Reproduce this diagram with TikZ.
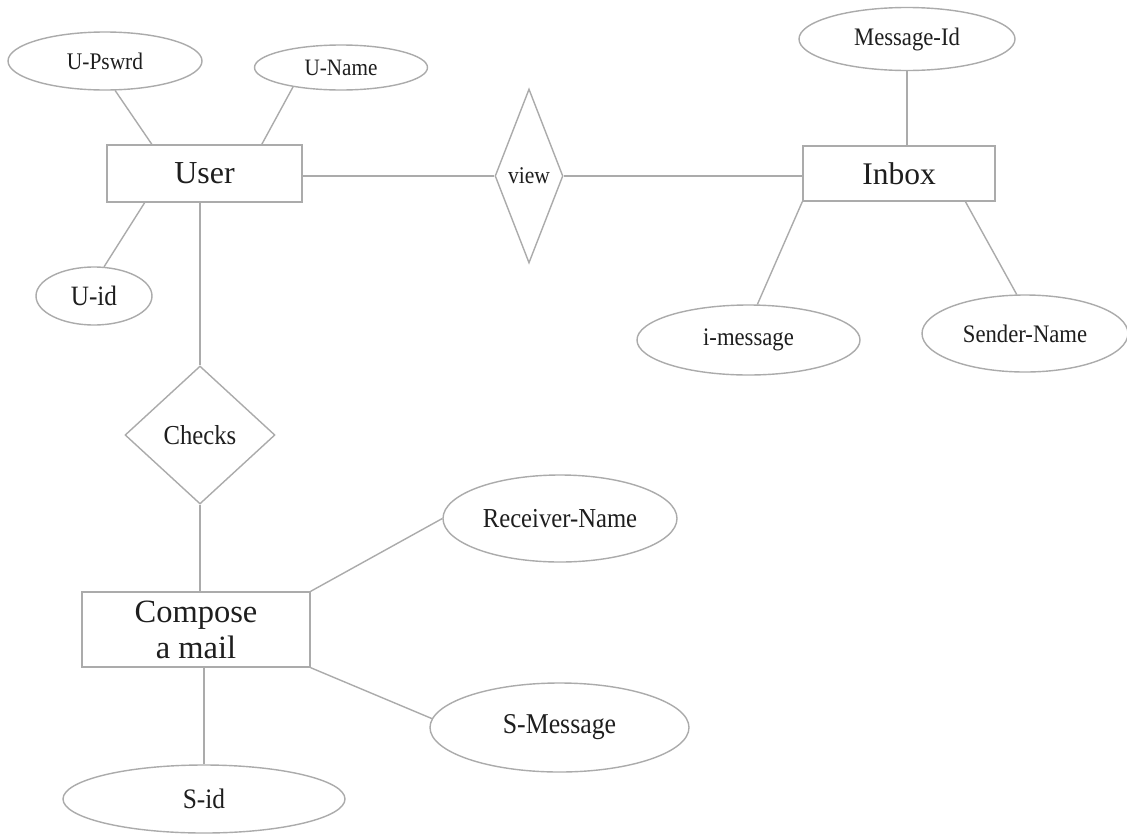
\documentclass[tikz,border=0pt]{standalone}
\usepackage{fontspec}
\setmainfont{Liberation Serif}
\newfontfamily\attrfont[FakeStretch=0.9]{Liberation Serif}
\usetikzlibrary{shapes.geometric}
\definecolor{edgegray}{HTML}{ABABAB}
\definecolor{ink}{HTML}{1E1E1E}
\newcommand\lblsize[1]{\attrfont\fontsize{#1}{#1}\selectfont}

\tikzset{
  er/.style={draw=edgegray, line width=1.4pt, inner sep=0pt, text=ink},
  entity/.style={er, rectangle, font=\fontsize{32}{36}\selectfont},
  attr/.style={er, ellipse},
  rel/.style={er, diamond},
  link/.style={draw=edgegray, line width=1.4pt},
}

\begin{document}
\begin{tikzpicture}[x=1pt, y=-1pt]
\useasboundingbox (0,0) rectangle (1127,836);
\fill[white] (0,0) rectangle (1127,836);

% entities
\node[entity, minimum width=195, minimum height=57] (user) at (204.5,173.5) {User};
\node[entity, minimum width=192, minimum height=55, font=\fontsize{31.5}{36}\selectfont] (inbox) at (899,173.5) {Inbox};
\node[entity, minimum width=228, minimum height=75, align=center, font=\fontsize{32.5}{36}\selectfont] (compose) at (196,629.5) {Compose\\a mail};

% relationships
\node[rel, minimum width=68, minimum height=174, font=\lblsize{24}] (view) at (529,176) {view};
\node[rel, minimum width=150, minimum height=138, font=\lblsize{27.4}] (checks) at (200,435) {Checks};

% attributes
\node[attr, minimum width=194, minimum height=58, font=\lblsize{23.8}] (upswrd) at (105,61) {U-Pswrd};
\node[attr, minimum width=173, minimum height=45, font=\lblsize{23.5}] (uname) at (341,67.5) {U-Name};
\node[attr, minimum width=116, minimum height=58, font=\lblsize{28}] (uid) at (94,296) {U-id};
\node[attr, minimum width=216, minimum height=63, font=\lblsize{25.2}] (msgid) at (907,39) {Message-Id};
\node[attr, minimum width=223, minimum height=70, font=\lblsize{25.2}] (imsg) at (748.5,340) {i-message};
\node[attr, minimum width=206, minimum height=77, font=\lblsize{25.2}] (sender) at (1025,333.5) {Sender-Name};
\node[attr, minimum width=234, minimum height=87, font=\lblsize{27.4}] (receiver) at (560,518.5) {Receiver-Name};
\node[attr, minimum width=259, minimum height=89, font=\lblsize{28.7}] (smsg) at (559.5,727.5) {S-Message};
\node[attr, minimum width=282, minimum height=68, font=\lblsize{28.2}] (sid) at (204,799) {S-id};

% connectors
\draw[link] (upswrd.-71) -- (user.151);
\draw[link] (uname.202) -- (user.27);
\draw[link] (uid.71) -- (user.206);
\draw[link] (view.west) -- (view.west -| user.east);
\draw[link] (view.east) -- (view.east -| inbox.west);
\draw[link] (msgid.south) -- (msgid.south |- inbox.north);
\draw[link] (imsg.76) -- (inbox.south west);
\draw[link] (sender.102) -- (inbox.-23);
\draw[link] (checks.north) -- (checks.north |- user.south);
\draw[link] (checks.south) -- (checks.south |- compose.north);
\draw[link] (receiver.west) -- (compose.north east);
\draw[link] (smsg.176) -- (compose.south east);
\draw[link] (sid.north) -- (sid.north |- compose.south);
\end{tikzpicture}
\end{document}
